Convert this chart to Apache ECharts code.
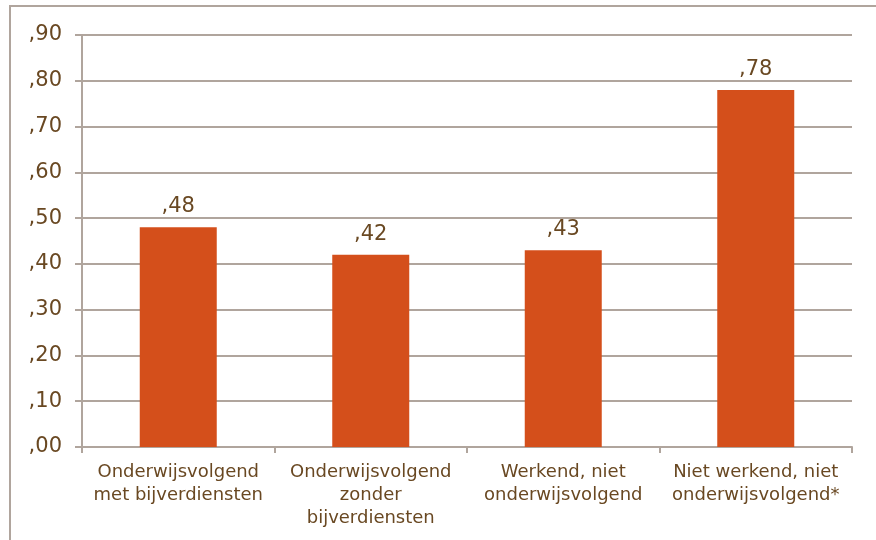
<!DOCTYPE html>
<html>
<head>
<meta charset="UTF-8">
<title>Onderwijsvolgend / werkend</title>
<style>
  html, body { margin: 0; padding: 0; background: #fff; }
  #chart { width: 876px; height: 540px; }
</style>
</head>
<body>
<div id="chart"></div>
<script src="https://cdn.jsdelivr.net/npm/echarts@6/dist/echarts.min.js"></script>
<script>
// categorieen en waarden
var categories = [
  'Onderwijsvolgend\nmet bijverdiensten',
  'Onderwijsvolgend\nzonder\nbijverdiensten',
  'Werkend, niet\nonderwijsvolgend',
  'Niet werkend, niet\nonderwijsvolgend*'
];
var values = [0.48, 0.42, 0.43, 0.78];

var textColor = '#694822';
var lineColor = '#b0a59d';

// ,48 in plaats van 0.48
function komma(v) {
  return ',' + Math.round(v * 100).toString().padStart(2, '0');
}

var chart = echarts.init(document.getElementById('chart'));
chart.setOption({
  animation: false,
  textStyle: { fontFamily: 'DejaVu Sans' },
  graphic: [{
    type: 'rect',
    shape: { x: 10, y: 6, width: 900, height: 600 },
    style: { fill: 'none', stroke: lineColor, lineWidth: 2 },
    silent: true
  }],
  grid: { left: 82, right: 24, top: 35, bottom: 93 },
  xAxis: {
    type: 'category',
    data: categories,
    axisLine: { lineStyle: { color: lineColor, width: 2 } },
    axisTick: { show: true, length: 6, lineStyle: { color: lineColor, width: 2 } },
    axisLabel: { color: textColor, fontSize: 18, margin: 14, lineHeight: 23, interval: 0 }
  },
  yAxis: {
    type: 'value',
    min: 0,
    max: 0.9,
    interval: 0.1,
    axisLine: { show: true, lineStyle: { color: lineColor, width: 2 } },
    axisTick: { show: true, length: 7, lineStyle: { color: lineColor, width: 2 } },
    splitLine: { lineStyle: { color: lineColor, width: 2 } },
    axisLabel: { color: textColor, fontSize: 21, margin: 20, formatter: komma }
  },
  series: [{
    type: 'bar',
    data: values,
    barWidth: '40%',
    itemStyle: { color: '#d44f1b' },
    label: {
      show: true,
      position: 'top',
      distance: 10,
      color: textColor,
      fontSize: 21,
      formatter: function (p) { return komma(p.value); }
    }
  }]
});
</script>
</body>
</html>
